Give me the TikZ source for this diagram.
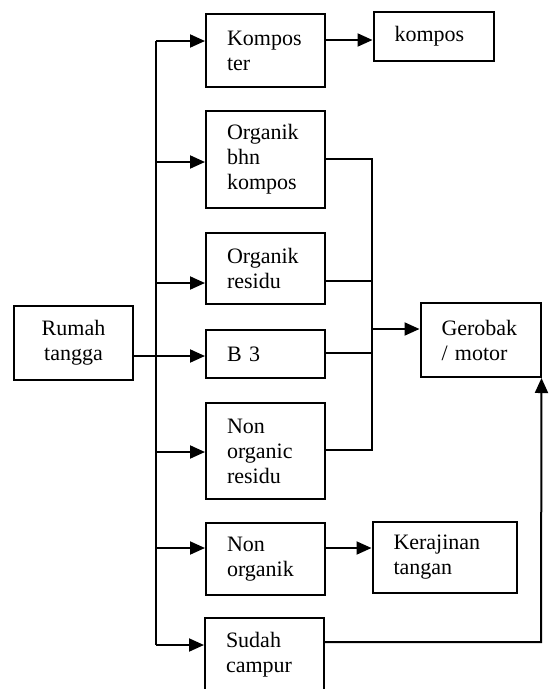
\documentclass[tikz,border=0pt]{standalone}
\usepackage{fontspec}
\setmainfont{Liberation Serif}
\usetikzlibrary{arrows.meta, positioning}

\tikzset{
  box/.style={draw, line width=2pt, align=left, inner xsep=21pt, inner ysep=2pt,
    font=\fontsize{22}{25}\selectfont},
  link/.style={line width=2pt},
  arr/.style={line width=2pt, -{Triangle[length=15pt, width=13pt]}}
}

\begin{document}
\begin{tikzpicture}[x=1pt, y=-1pt]

% Page
\fill[white] (0,0) rectangle (551,689);
\useasboundingbox (0,0) rectangle (551,689);

% Draw the boxes
\node[box, align=center, text width=77pt, minimum height=74pt] (rumah) at (73.5,343) {Rumah\\tangga};

\node[box, text width=77pt, minimum height=73pt] (kter) at (265.5,50.5) {Kompos\\ter};
\node[box, text width=77pt, minimum height=97pt] (bhn) at (265.5,159.5) {Organik\\bhn\\kompos};
\node[box, text width=77pt, minimum height=71pt] (ores) at (265.5,268.5) {Organik\\residu};
\node[box, text width=77pt, minimum height=48pt] (bthree) at (265.5,354) {B 3};
\node[box, text width=77pt, minimum height=96pt] (nres) at (265.5,451) {Non\\organic\\residu};
\node[box, text width=77pt, minimum height=72pt] (norg) at (265.5,559) {Non\\organik};
\node[box, text width=77pt, minimum height=73pt] (sudah) at (264.5,654.5) {Sudah\\campur};

\node[box, text width=78pt, minimum height=49pt] (kompos) at (433.5,36.5) {kompos};
\node[box, text width=78pt, minimum height=74pt] (gerobak) at (480.5,340) {Gerobak\\/ motor};
\node[box, text width=102pt, minimum height=71pt] (kerajinan) at (444.5,557.5) {Kerajinan\\tangan};

% Points on the lines
\coordinate (btop) at (156,41);
\coordinate (bbhn) at (156,162);
\coordinate (bores) at (156,283);
\coordinate (bnres) at (156,452);
\coordinate (bnorg) at (156,548);
\coordinate (bbot) at (156,645);
\coordinate (rtop) at (372,159);
\coordinate (rores) at (372,281);
\coordinate (rgero) at (372,329);
\coordinate (rbthree) at (372,353);
\coordinate (rbot) at (372,450);
\coordinate (corner) at (541,642);

% Lines from Rumah tangga
\draw[link] (btop) -- (bbot);
\draw[arr] (rumah.east |- 0,356) -- (bthree.west |- 0,356);
\draw[arr] (btop) -- (kter.west |- btop);
\draw[arr] (bbhn) -- (bhn.west |- bbhn);
\draw[arr] (bores) -- (ores.west |- bores);
\draw[arr] (bnres) -- (nres.west |- bnres);
\draw[arr] (bnorg) -- (norg.west |- bnorg);
\draw[arr] (bbot) -- (sudah.west |- bbot);

% Lines to Gerobak / motor
\draw[link] (bhn.east |- rtop) -- (rtop) -- (rbot) -- (nres.east |- rbot);
\draw[link] (ores.east |- rores) -- (rores);
\draw[link] (bthree.east |- rbthree) -- (rbthree);
\draw[arr] (rgero) -- (gerobak.west |- rgero);
\draw[arr] (sudah.east |- corner) -- (corner) -- (gerobak.south east);

% Other arrows
\draw[arr] (kter.east |- 0,40) -- (kompos.west |- 0,40);
\draw[arr] (norg.east |- bnorg) -- (kerajinan.west |- bnorg);

\end{tikzpicture}
\end{document}
